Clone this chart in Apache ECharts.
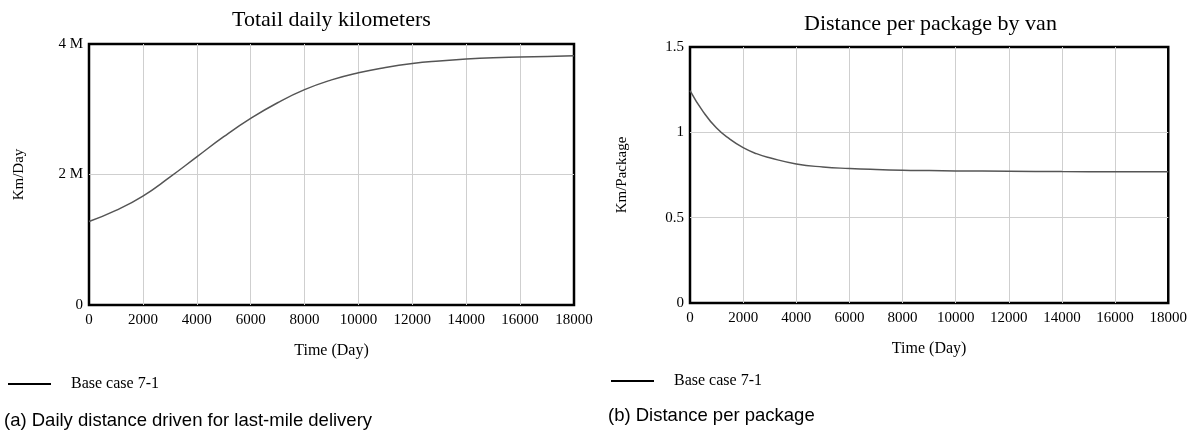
<!DOCTYPE html>
<html><head><meta charset="utf-8">
<script src="https://cdn.jsdelivr.net/npm/echarts@6/dist/echarts.min.js"></script>
<style>html,body{margin:0;padding:0;background:#fff}#c{width:1190px;height:432px}</style>
</head><body><div id="c"></div>
<script>
// Time axis (days)
const daysA = [0,1000,2000,3000,4000,5000,6000,7000,8000,9000,10000,11000,12000,13000,14000,15000,16000,17000,18000];
// Totail daily kilometers (Km/Day)
const kmPerDay = [1.28e6,1.45e6,1.67e6,1.96e6,2.27e6,2.58e6,2.86e6,3.10e6,3.30e6,3.45e6,3.56e6,3.64e6,3.70e6,3.74e6,3.77e6,3.79e6,3.80e6,3.81e6,3.82e6];
const daysB = [0,500,1000,1500,2000,2500,3000,4000,5000,6000,7000,8000,9000,10000,12000,14000,16000,18000];
// Distance per package by van (Km/Package)
const kmPerPackage = [1.245,1.12,1.025,0.96,0.91,0.875,0.851,0.815,0.797,0.788,0.782,0.778,0.776,0.774,0.772,0.770,0.769,0.769];
const seriesName = 'Base case 7-1';

const serif = 'Liberation Serif';
const sans = 'Liberation Sans';
const chart = echarts.init(document.getElementById('c'));
const gridLine = {show:true, showMinLine:false, showMaxLine:false, lineStyle:{color:'#cfcfcf', width:1}};
function xAxis(gi){
  return {type:'value', gridIndex:gi, min:0, max:18000, interval:2000,
    name:'Time (Day)', nameLocation:'middle', nameGap:38,
    nameTextStyle:{fontFamily:serif, fontSize:16, color:'#000'},
    axisLine:{show:false}, axisTick:{show:false},
    axisLabel:{fontFamily:serif, fontSize:15, color:'#000', margin:8, formatter:v=>String(v)},
    splitLine:gridLine};
}
chart.setOption({
  backgroundColor:'#fff',
  animation:false,
  title:[
    {text:'Totail daily kilometers', left:227, top:4, textStyle:{fontFamily:serif, fontSize:22, fontWeight:'normal', color:'#000'}},
    {text:'Distance per package by van', left:799, top:8, textStyle:{fontFamily:serif, fontSize:22, fontWeight:'normal', color:'#000'}},
    {text:'(a) Daily distance driven for last-mile delivery', left:-1, top:406, textStyle:{fontFamily:sans, fontSize:18.5, fontWeight:'normal', color:'#000'}},
    {text:'(b) Distance per package', left:603, top:401, textStyle:{fontFamily:sans, fontSize:18.5, fontWeight:'normal', color:'#000'}}
  ],
  legend:[
    {left:3, top:371, data:[seriesName], icon:'rect', itemWidth:43, itemHeight:2,
     itemStyle:{color:'#000'}, textStyle:{fontFamily:serif, fontSize:16, color:'#000', padding:[0,0,0,15]}, selectedMode:false},
    {left:606, top:368, data:[seriesName], icon:'rect', itemWidth:43, itemHeight:2,
     itemStyle:{color:'#000'}, textStyle:{fontFamily:serif, fontSize:16, color:'#000', padding:[0,0,0,15]}, selectedMode:false}
  ],
  grid:[
    {left:89, right:616, top:44, bottom:127, show:true, borderColor:'#000', borderWidth:2.5, containLabel:false},
    {left:690, right:21, top:47, bottom:129, show:true, borderColor:'#000', borderWidth:2.5, containLabel:false}
  ],
  xAxis:[xAxis(0), xAxis(1)],
  yAxis:[
    {type:'value', gridIndex:0, min:0, max:4e6, interval:2e6,
     name:'Km/Day', nameLocation:'middle', nameGap:62, nameRotate:90,
     nameTextStyle:{fontFamily:serif, fontSize:15, color:'#000'},
     axisLine:{show:false}, axisTick:{show:false},
     axisLabel:{fontFamily:serif, fontSize:15, color:'#000', margin:6, formatter:v=> v===0?'0':(v/1e6)+' M'},
     splitLine:gridLine},
    {type:'value', gridIndex:1, min:0, max:1.5, interval:0.5,
     name:'Km/Package', nameLocation:'middle', nameGap:60, nameRotate:90,
     nameTextStyle:{fontFamily:serif, fontSize:15, color:'#000'},
     axisLine:{show:false}, axisTick:{show:false},
     axisLabel:{fontFamily:serif, fontSize:15, color:'#000', margin:6},
     splitLine:gridLine}
  ],
  series:[
    {name:seriesName, type:'line', xAxisIndex:0, yAxisIndex:0, smooth:true, showSymbol:false,
     lineStyle:{color:'#555', width:1.5}, itemStyle:{color:'#000'},
     data:daysA.map((d,i)=>[d,kmPerDay[i]])},
    {name:seriesName, type:'line', xAxisIndex:1, yAxisIndex:1, smooth:true, showSymbol:false,
     lineStyle:{color:'#555', width:1.5}, itemStyle:{color:'#000'},
     data:daysB.map((d,i)=>[d,kmPerPackage[i]])}
  ]
});
</script></body></html>
